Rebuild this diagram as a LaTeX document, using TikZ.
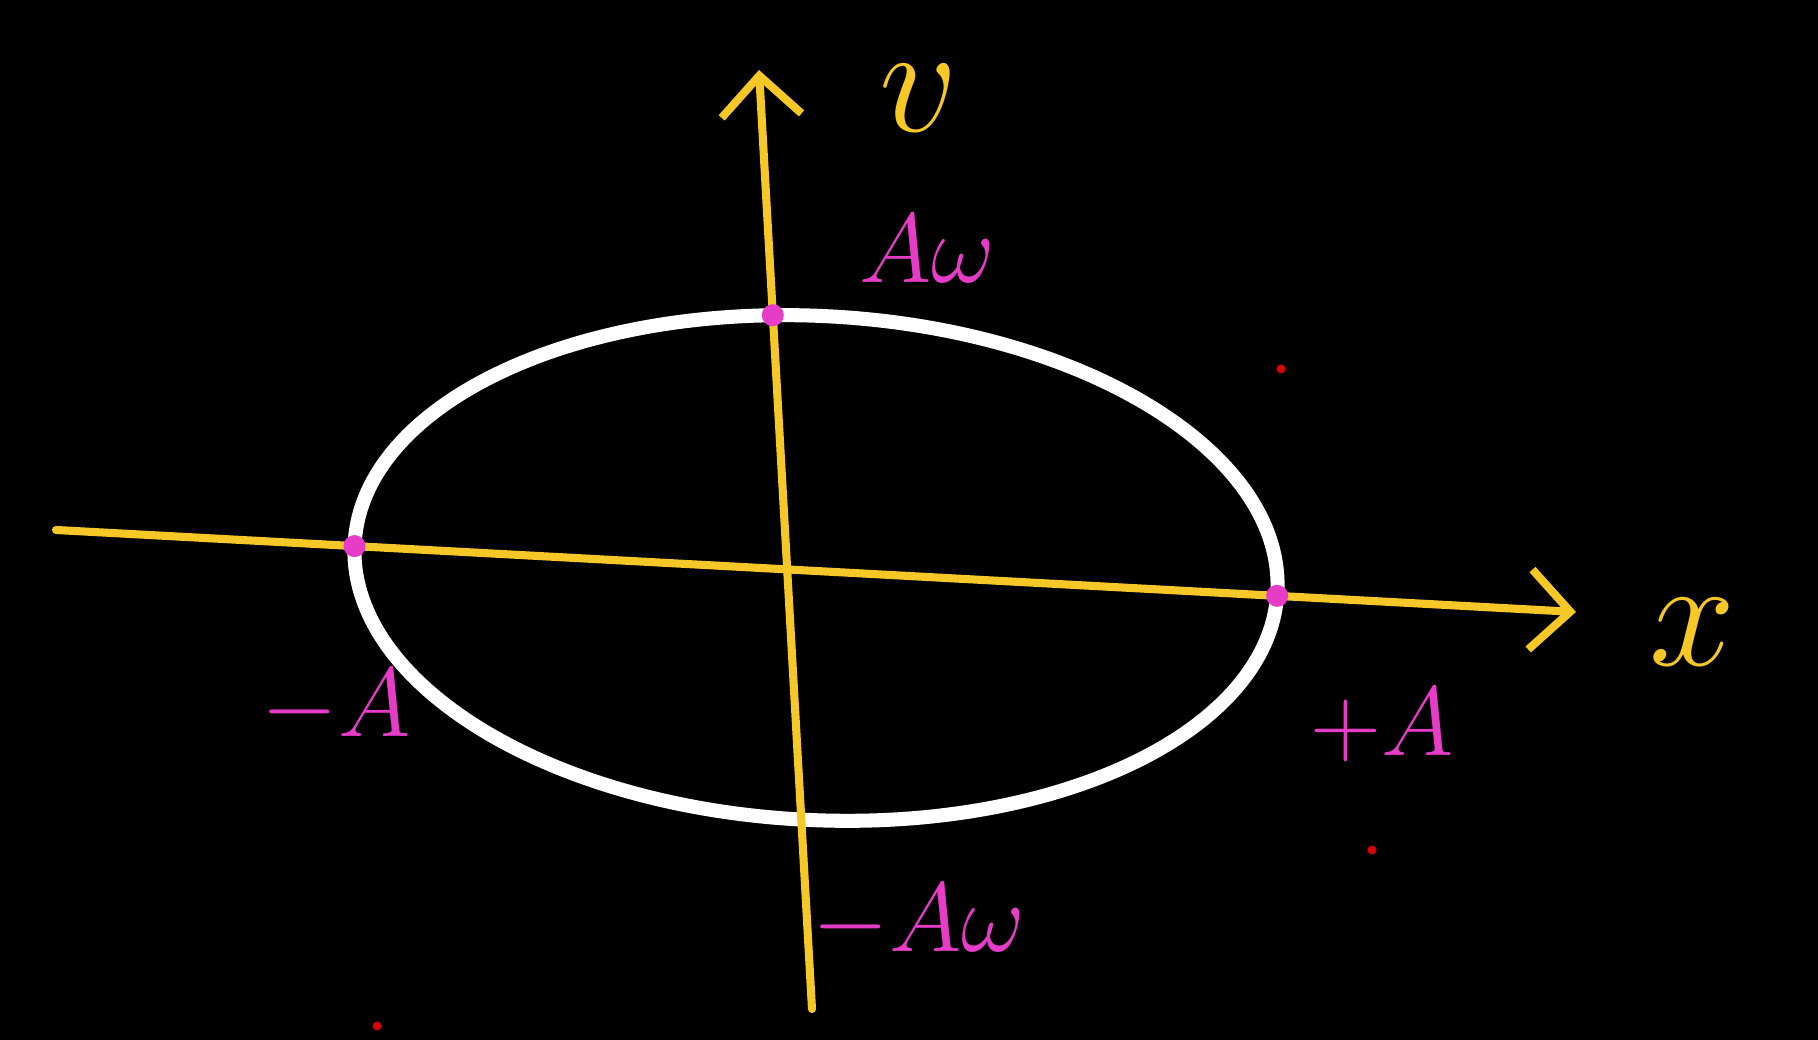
\RequirePackage{fix-cm}
\documentclass[tikz,border=0pt]{standalone}
\usepackage{tikz}
\usetikzlibrary{arrows.meta,positioning,intersections}

\definecolor{chalkyellow}{HTML}{F5C828}
\definecolor{chalkpink}{HTML}{E63CC8}

\begin{document}
\begin{tikzpicture}[
    >={Straight Barb[length=4mm,width=8mm]},
    axisline/.style={->, line width=2.3pt, draw=chalkyellow, line cap=round},
    orbit/.style={draw=white, line width=4pt},
    hitdot/.style={circle, fill=chalkpink, inner sep=0pt, minimum size=2.2mm},
    tag/.style={text=chalkpink, font=\fontsize{28}{34}\selectfont},
    axistag/.style={text=chalkyellow, font=\fontsize{44}{52}\selectfont},
    speck/.style={circle, fill=red!85!black, inner sep=0pt, minimum size=0.9mm}
  ]
    \fill[black] (0,0) rectangle (18.18,10.40);
    \useasboundingbox (0,0) rectangle (18.18,10.40);

    \coordinate (xstart) at (0.56,5.10);
    \coordinate (xend) at (15.76,4.28);
    \coordinate (vstart) at (8.12,0.31);
    \coordinate (vend) at (7.59,9.70);
    \coordinate (centre) at (8.16,4.72);

    \draw[orbit, name path=orbit, rotate around={-3:(centre)}]
      (centre) ellipse [x radius=4.62, y radius=2.52];
    \draw[axisline, name path=xaxis] (xstart) -- (xend);
    \draw[axisline, name path=vaxis] (vstart) -- (vend);

    \path[name intersections={of=xaxis and orbit, name=xhit, sort by=xaxis}];
    \path[name intersections={of=vaxis and orbit, name=vhit, sort by=vaxis}];

    \node[hitdot] (left) at (xhit-1) {};
    \node[hitdot] (right) at (xhit-2) {};
    \node[hitdot] (top) at (vhit-2) {};

    \node[axistag] (xlab) at (16.93,4.08) {$x$};
    \node[axistag] (vlab) at (9.19,9.42) {$v$};

    \node[tag] (topval) at (9.27,7.91) {$A\omega$};
    \node[tag] (botval) at (9.19,1.18) {$-A\omega$};
    \node[tag] (leftval) at (3.36,3.33) {$-A$};
    \node[tag] (rightval) at (13.82,3.15) {$+A$};

    \node[speck] (speck1) at (12.81,6.71) {};
    \node[speck] (speck2) at (13.72,1.90) {};
    \node[speck] (speck3) at (3.77,0.14) {};
  \end{tikzpicture}
\end{document}
